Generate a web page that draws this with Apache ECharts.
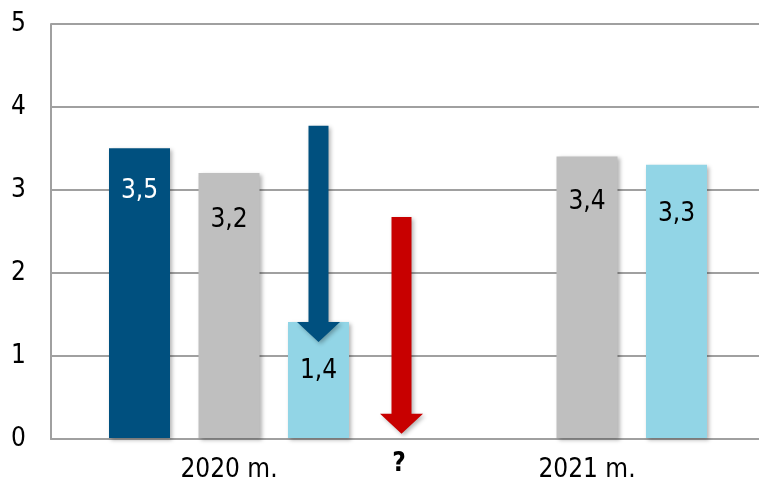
<!DOCTYPE html>
<html>
<head>
<meta charset="utf-8">
<script src="https://cdn.jsdelivr.net/npm/echarts@6/dist/echarts.min.js"></script>
<style>html,body{margin:0;padding:0;background:#fff}#c{width:759px;height:483px}</style>
</head>
<body>
<div id="c"></div>
<script>
// slots along the category axis
const categories = ['', '2020 m.', '', '?', '', '2021 m.', ''];
// bar values per slot (null = empty slot)
const barValues = [3.5, 3.2, 1.4, null, null, 3.4, 3.3];
const barColors = ['#00507f', '#bfbfbf', '#92d5e6', null, null, '#bfbfbf', '#92d5e6'];
const labelColors = ['#ffffff', '#000000', '#000000', null, null, '#000000', '#000000'];
const labelDistances = [30, 34, 36, null, null, 33, 36];
// arrows: [slot, from value, to value]
const arrowBlue = [2, 3.77, 1.16];
const arrowRed = [3, 2.67, 0.05];
const yTicks = [0, 1, 2, 3, 4, 5];

const FONT = '"DejaVu Sans Condensed", "DejaVu Sans", sans-serif';
const FS = 26;
const chart = echarts.init(document.getElementById('c'), null, {renderer: 'canvas'});

function arrowRender(color, dx) {
  return function (params, api) {
    const x = api.value(0);
    const top = api.coord([x, api.value(1)]);
    const tip = api.coord([x, api.value(2)]);
    const cx = top[0] + dx;
    const shaftHalf = 10, headHalf = 21.5, headH = 20;
    const base = tip[1] - headH;
    return {
      type: 'polygon',
      shape: {points: [
        [cx - shaftHalf, top[1]], [cx + shaftHalf, top[1]], [cx + shaftHalf, base],
        [cx + headHalf, base], [cx, tip[1]], [cx - headHalf, base], [cx - shaftHalf, base]
      ]},
      style: {fill: color, shadowBlur: 4, shadowOffsetX: 2, shadowOffsetY: 2, shadowColor: 'rgba(0,0,0,0.3)'},
      z2: 10
    };
  };
}

chart.setOption({
  animation: false,
  grid: [
    {left: 51, right: 0, top: 24, bottom: 44},
    {left: 94.75, right: 37.75, top: 24, bottom: 44}
  ],
  xAxis: [
    {gridIndex: 0, type: 'category', data: ['a'], axisLine: {show: true, lineStyle: {color: '#a0a0a0', width: 2}},
     axisTick: {show: false}, axisLabel: {show: false}, splitLine: {show: false}},
    {gridIndex: 1, type: 'category', data: categories, axisLine: {show: false}, axisTick: {show: false},
     axisLabel: {
       interval: 0, margin: 19, color: '#000', fontFamily: FONT, fontSize: FS,
       formatter: function (v) { return v === '?' ? '' : v; }
     }}
  ],
  yAxis: [
    {gridIndex: 0, type: 'value', min: 0, max: 5, interval: 1,
     axisLine: {show: true, lineStyle: {color: '#a0a0a0', width: 2}}, axisTick: {show: false},
     axisLabel: {margin: 25, color: '#000', fontFamily: FONT, fontSize: FS,
       formatter: function (v) { return yTicks.indexOf(v) >= 0 ? String(v) : ''; }},
     splitLine: {show: true, lineStyle: {color: '#a0a0a0', width: 2}}},
    {gridIndex: 1, type: 'value', min: 0, max: 5, interval: 1, show: false}
  ],
  series: [
    {
      type: 'bar', xAxisIndex: 1, yAxisIndex: 1, barWidth: 61,
      data: barValues.map(function (v, i) {
        return v == null ? null : {
          value: v,
          itemStyle: {color: barColors[i], shadowBlur: 4, shadowOffsetX: 2, shadowOffsetY: 2, shadowColor: 'rgba(0,0,0,0.3)'},
          label: {color: labelColors[i], distance: labelDistances[i]}
        };
      }),
      label: {show: true, position: 'insideTop', distance: 30, fontFamily: FONT, fontSize: FS,
        formatter: function (p) { return String(p.value).replace('.', ','); }},
      z: 2
    },
    {type: 'custom', xAxisIndex: 1, yAxisIndex: 1, renderItem: arrowRender('#00507f', 0), data: [arrowBlue], z: 5},
    {type: 'custom', xAxisIndex: 1, yAxisIndex: 1, renderItem: arrowRender('#c80000', -6.5), data: [arrowRed], z: 5}
  ]
});

// bold "?" label under its slot, slightly raised like the reference
const qIdx = categories.indexOf('?');
const qPos = chart.convertToPixel({xAxisIndex: 1, yAxisIndex: 1}, [qIdx, 0]);
chart.setOption({
  graphic: [{
    type: 'text', x: qPos[0] - 9, y: qPos[1] + 26,
    style: {text: categories[qIdx], font: 'bold ' + FS + 'px ' + FONT, fill: '#000', align: 'center', verticalAlign: 'middle'}
  }]
});
</script>
</body>
</html>
